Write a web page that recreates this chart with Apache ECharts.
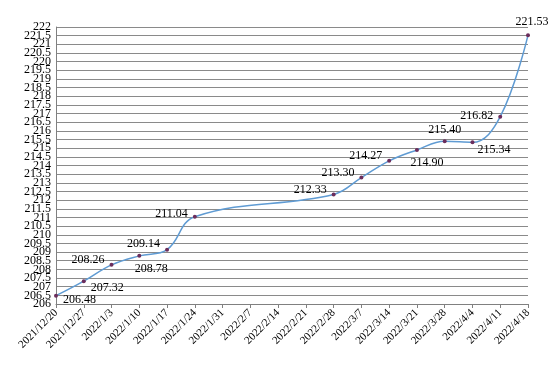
<!DOCTYPE html>
<html>
<head>
<meta charset="utf-8">
<script src="https://cdn.jsdelivr.net/npm/echarts@6/dist/echarts.min.js"></script>
<style>html,body{margin:0;padding:0;background:#fff}#c{width:554px;height:368px}</style>
</head>
<body>
<div id="c"></div>
<script>
const categories = ["2021/12/20","2021/12/27","2022/1/3","2022/1/10","2022/1/17","2022/1/24","2022/1/31","2022/2/7","2022/2/14","2022/2/21","2022/2/28","2022/3/7","2022/3/14","2022/3/21","2022/3/28","2022/4/4","2022/4/11","2022/4/18"];
const values = [206.48,207.32,208.26,208.78,209.14,211.04,null,null,null,null,212.33,213.30,214.27,214.90,215.40,215.34,216.82,221.53];
const yMin = 206, yMax = 222, yStep = 0.5;

const FONT = "'Liberation Serif', serif";
// label placement per point (style only)
const placeFor = {
  0: {position:'right', offset:[0,4]},
  1: {position:'right', offset:[0,7]},
  2: {position:'left', offset:[0,-5]},
  3: {position:'bottom', offset:[12,0]},
  4: {position:'left', offset:[0,-6]},
  5: {position:'left', offset:[0,-3]},
  10: {position:'left', offset:[0,-5]},
  11: {position:'left', offset:[0,-5]},
  12: {position:'left', offset:[0,-5]},
  13: {position:'bottom', offset:[10,0]},
  14: {position:'top', offset:[0,2]},
  15: {position:'right', offset:[-2,8]},
  16: {position:'left', offset:[0,-1]},
  17: {position:'top', offset:[4,0]}
};
const seriesData = values.map((v, i) => {
  if (v === null) return null;
  const p = placeFor[i] || {position:'top'};
  return {value: v, label: {position: p.position, offset: p.offset}};
});

const yLabel = {fontFamily: FONT, fontSize: 12, color: '#000', margin: 5, formatter: v => String(v)};

const chart = echarts.init(document.getElementById('c'));
chart.setOption({
  animation: false,
  backgroundColor: '#fff',
  grid: {left: 56, right: 26, top: 27, bottom: 64, containLabel: false},
  xAxis: {
    type: 'category',
    data: categories,
    boundaryGap: false,
    axisLine: {lineStyle: {color: '#808080', width: 1}},
    axisTick: {show: true, length: 4, lineStyle: {color: '#808080'}},
    axisLabel: {rotate: 45, interval: 0, fontFamily: FONT, fontSize: 11, color: '#000', margin: 7},
    splitLine: {show: false}
  },
  yAxis: [{
    type: 'value',
    min: yMin, max: yMax, interval: yStep,
    axisLine: {show: true, lineStyle: {color: '#808080'}},
    axisTick: {show: false},
    axisLabel: Object.assign({showMinLabel: false, showMaxLabel: false}, yLabel),
    splitLine: {lineStyle: {color: '#8a8a8a', width: 1}}
  }, {
    type: 'value',
    position: 'left',
    min: yMin, max: yMax, interval: yMax - yMin,
    axisLine: {show: false},
    axisTick: {show: false},
    splitLine: {show: false},
    axisLabel: Object.assign({showMinLabel: true, showMaxLabel: true}, yLabel)
  }],
  series: [{
    type: 'line',
    data: seriesData,
    smooth: 0.4,
    connectNulls: true,
    symbol: 'circle',
    symbolSize: 4,
    itemStyle: {color: '#6b2d5c'},
    lineStyle: {color: '#5f9bd3', width: 1.5},
    label: {show: true, fontFamily: FONT, fontSize: 12, color: '#000',
      formatter: p => Number(p.value).toFixed(2)}
  }]
});
</script>
</body>
</html>
